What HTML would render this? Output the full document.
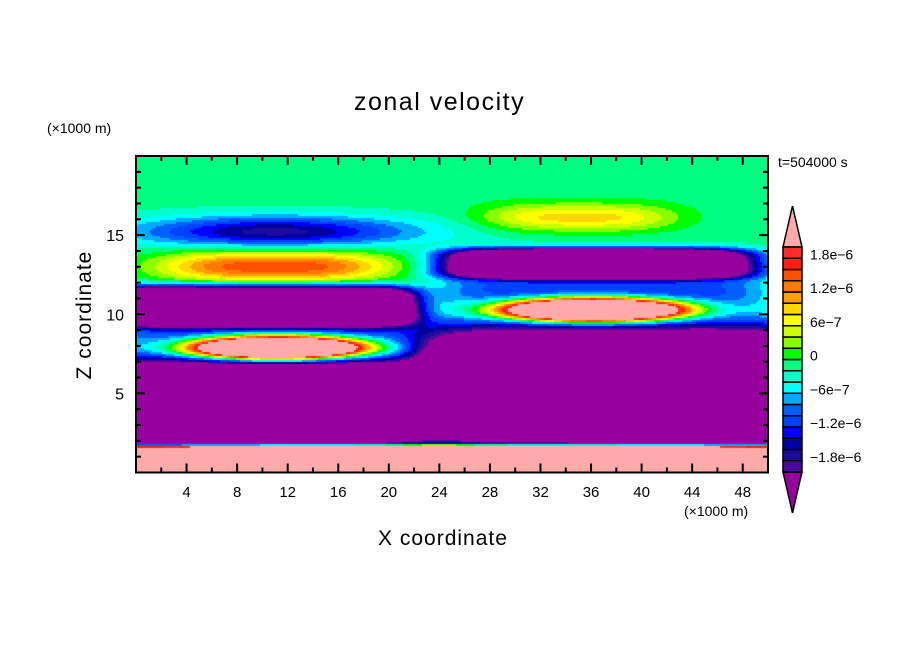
<!DOCTYPE html>
<html><head><meta charset="utf-8">
<style>
html,body{margin:0;padding:0;background:#fff;}
#wrap{position:relative;width:904px;height:654px;overflow:hidden;font-family:"Liberation Sans",sans-serif;color:#000;}
.t{position:absolute;white-space:nowrap;}
</style></head>
<body>
<div id="wrap">
<div class="t" style="left:354px;top:88px;font-size:25px;letter-spacing:1.5px;">zonal velocity</div>
<div class="t" style="left:47px;top:120px;font-size:14px;">(×1000 m)</div>
<div class="t" style="left:778px;top:154px;font-size:14px;">t=504000 s</div>
<div class="t" style="left:684px;top:503px;font-size:14px;">(×1000 m)</div>
<div class="t" style="left:378px;top:527px;font-size:21px;letter-spacing:1px;">X coordinate</div>
<div class="t" style="left:85px;top:315px;font-size:21px;letter-spacing:1px;transform:translate(-50%,-50%) rotate(-90deg);">Z coordinate</div>
<canvas id="cv" width="632" height="316" style="position:absolute;left:136px;top:156px;"></canvas>
<svg id="sv" width="904" height="654" style="position:absolute;left:0;top:0;"></svg>
</div>
<script>
// Data: blobs of the velocity field (x, z in km; widths; exponents; amplitude in m/s)
const blobX = [11, 11, 9.5, 11.2, 9, 35, 36.5, 36.2, 40, 25, 11, 37];
const blobZ = [15.2, 13, 10.5, 7.85, 4.25, 16.1, 13.2, 10.25, 5.3, 0, 8.6, 11.2];
const blobWX = [11, 9, 12.3, 5.9, 13.8, 7.5, 11.6, 6.3, 17.2, 40, 13, 13];
const blobWZ = [1.0, 1.0, 1.2, 0.62, 2.6, 0.85, 0.9, 0.62, 3.6, 1.6, 2.2, 2.2];
const blobPX = [2, 3, 8, 2, 8, 3, 5, 2, 8, 2, 6, 6];
const blobPZ = [2, 2, 4, 2, 4, 2, 4, 2, 4, 10, 2, 2];
const blobAmp = [-1.6e-6, 1.7e-6, -5e-6, 1.0e-5, -5e-6, 1.0e-6, -5e-6, 1.0e-5, -5e-6, 1.2e-5, -1.1e-6, -1.1e-6];
const background = -0.1e-6;
const levelColors = ["#4a0aa0","#1a0aa0","#0000a0","#0000ff","#0040ff","#0060ff","#00aaff","#00ffff","#00ffcc","#00ff80",
 "#00ff00","#88ff00","#ccff00","#ffff00","#ffd700","#ffa000","#ff7800","#ff5000","#ff2000","#ff2a2a"];
const overColor = "#ffaaaa", underColor = "#9900a0";
const levelMin = -2e-6, levelStep = 2e-7;
const cbLabels = ["1.8e-6","1.2e-6","6e-7","0","-6e-7","-1.2e-6","-1.8e-6"];
const cbLabelVals = [1.8e-6,1.2e-6,6e-7,0,-6e-7,-1.2e-6,-1.8e-6];
const xTicks = [4,8,12,16,20,24,28,32,36,40,44,48];
const yTicks = [5,10,15];

const X0=136,X1=768,Y0=156,Y1=472.5;
const sx = v => X0 + (v/50)*(X1-X0);
const sy = v => Y1 - (v/20)*(Y1-Y0);
function field(x,z){
  let s=background;
  for(let i=0;i<blobX.length;i++){
    const e=Math.pow(Math.abs((x-blobX[i])/blobWX[i]),blobPX[i])+Math.pow(Math.abs((z-blobZ[i])/blobWZ[i]),blobPZ[i]);
    if(e<40) s+=blobAmp[i]*Math.exp(-e);
  }
  return s;
}
function colorOf(v){
  if(v>=levelMin+levelStep*levelColors.length) return overColor;
  if(v<levelMin) return underColor;
  return levelColors[Math.floor((v-levelMin)/levelStep)];
}
const ctx=document.getElementById('cv').getContext('2d');
const W=632,H=316,c=2;
for(let j=0;j<H;j+=c){for(let i=0;i<W;i+=c){
  const x=(i+c/2)/W*50, z=(H-j-c/2)/H*20;
  ctx.fillStyle=colorOf(field(x,z));ctx.fillRect(i,j,c,c);
}}
const NS="http://www.w3.org/2000/svg", sv=document.getElementById('sv');
function mk(tag,attrs){const e=document.createElementNS(NS,tag);for(const k in attrs)e.setAttribute(k,attrs[k]);sv.appendChild(e);return e;}
let fr=mk('rect',{x:X0,y:Y0,width:X1-X0,height:Y1-Y0,fill:'none',stroke:'#000','stroke-width':2});


for(let v=2;v<50;v+=2){
  const L=(v%4===0)?9:5;
  mk('line',{x1:sx(v),x2:sx(v),y1:Y1,y2:Y1-L,stroke:'#000','stroke-width':2});
  mk('line',{x1:sx(v),x2:sx(v),y1:Y0,y2:Y0+L,stroke:'#000','stroke-width':2});
}
for(let v=1;v<20;v++){
  const L=(v%5===0)?9:5;
  mk('line',{x1:X0,x2:X0+L,y1:sy(v),y2:sy(v),stroke:'#000','stroke-width':2});
  mk('line',{x1:X1,x2:X1-L,y1:sy(v),y2:sy(v),stroke:'#000','stroke-width':2});
}
xTicks.forEach(v=>{const t=mk('text',{x:sx(v),y:497,'text-anchor':'middle','font-size':15,'font-family':'Liberation Sans, sans-serif'});t.textContent=v;

});
yTicks.forEach(v=>{const t=mk('text',{x:124,y:sy(v)+6,'text-anchor':'end','font-size':16,'font-family':'Liberation Sans, sans-serif'});t.textContent=v;

});
// colorbar
const CX=783,CW=19,CT=247,CB=472,bh=(CB-CT)/levelColors.length;
const tri1=mk('polygon',{points:`${CX},${CT} ${CX+CW/2},206 ${CX+CW},${CT}`,fill:overColor,stroke:'#000','stroke-width':1.5});


const tri2=mk('polygon',{points:`${CX},${CB} ${CX+CW/2},513 ${CX+CW},${CB}`,fill:underColor,stroke:'#000','stroke-width':1.5});


levelColors.forEach((col,i)=>{const r=mk('rect',{x:CX,y:CB-(i+1)*bh,width:CW,height:bh,fill:col,stroke:'#000','stroke-width':1.5});

});
const cbY=v=>CB-(v-levelMin)/levelStep*bh;
cbLabels.forEach((s,i)=>{const t=mk('text',{x:810,y:cbY(cbLabelVals[i])+1,'font-size':14,'font-family':'Liberation Sans, sans-serif'});t.textContent=s.replace(/-/g,'\u2212');

});
</script>
</body></html>
